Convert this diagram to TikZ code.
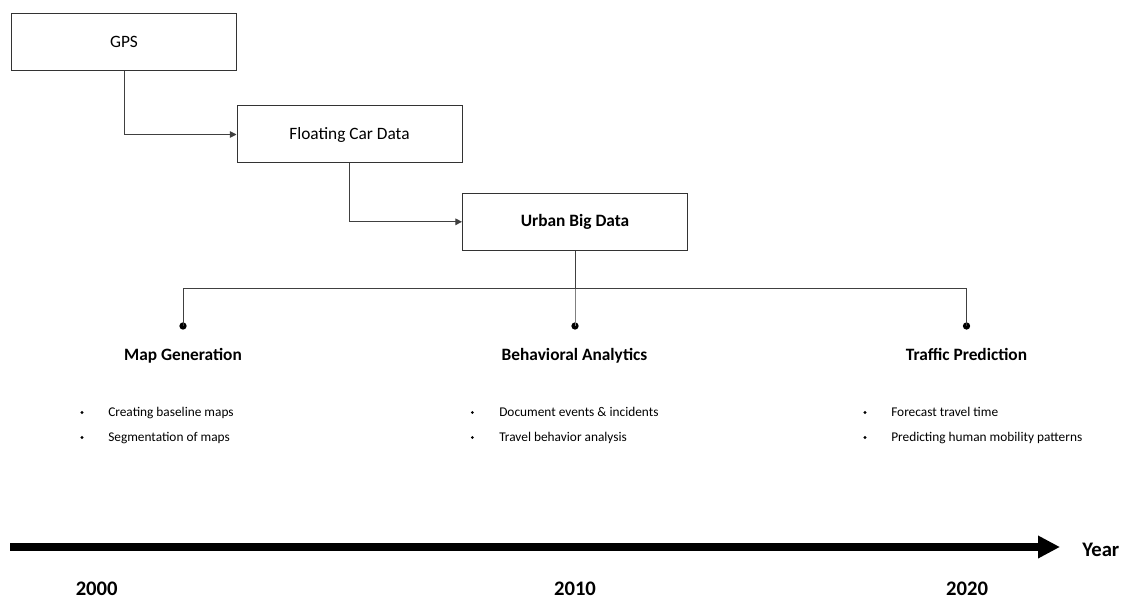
\documentclass[tikz,border=0pt]{standalone}
\usepackage{fontspec}
\setmainfont{Carlito}
\usetikzlibrary{arrows.meta}
\begin{document}
\begin{tikzpicture}[x=0.75pt,y=-0.75pt,
  box/.style={draw=black!80,line width=0.75pt,minimum width=168.75pt,minimum height=42.75pt,inner sep=0pt,font=\fontsize{13}{15}\selectfont},
  conn/.style={draw=black!75,line width=0.7pt},
  tip/.style={-{Triangle[length=5pt,width=5pt]}},
  head/.style={anchor=base,font=\fontsize{13}{15}\selectfont\bfseries},
  itm/.style={anchor=base west,inner sep=0pt,font=\fontsize{10}{12}\selectfont},
  bul/.style={circle,fill=black,inner sep=0pt,minimum size=2.3pt},
  yr/.style={anchor=base,inner sep=0pt,font=\fontsize{15.5}{18}\selectfont\bfseries},
  dot/.style={circle,fill=black,inner sep=0pt,minimum size=5.5pt}]
\useasboundingbox (0,0) rectangle (1123,598);

% boxes
\node[box] (gps) at (124,42) {GPS};
\node[box] (fcd) at (349.5,134.5) {Floating Car Data};
\node[box] (ubd) at (575,221.8) {\bfseries Urban Big Data};

% connectors between boxes
\draw[conn,tip] (gps.south) |- (fcd.west);
\draw[conn,tip] (fcd.south) |- (ubd.west);

% branch
\coordinate (j) at (575,288.3);
\node[dot] (d1) at (183,326) {};
\node[dot] (d2) at (575,326) {};
\node[dot] (d3) at (966.5,326) {};
\draw[conn] (ubd.south) -- (j);
\draw[conn,draw=black!50] (j) -- (d2.center);
\draw[conn] (d1.center) |- (j) -| (d3.center);

% headings
\node[head] (h1) at (183,360) {Map Generation};
\node[head] (h2) at (574.5,360) {Behavioral Analytics};
\node[head] (h3) at (966.5,360) {Traffic Prediction};

% items
\node[bul] (b11) at (82,412.5) {};
\node[bul] (b12) at (82,437.5) {};
\node[itm] (i11) at (108,416) {Creating baseline maps};
\node[itm] (i12) at (108,441) {Segmentation of maps};

\node[bul] (b21) at (472.3,412.5) {};
\node[bul] (b22) at (472.3,437.5) {};
\node[itm] (i21) at (499,416) {Document events \& incidents};
\node[itm] (i22) at (499,441) {Travel behavior analysis};

\node[bul] (b31) at (865,412.5) {};
\node[bul] (b32) at (865,437.5) {};
\node[itm] (i31) at (891,416) {Forecast travel time};
\node[itm] (i32) at (891,441) {Predicting human mobility patterns};

% timeline
\coordinate (t0) at (10,547);
\coordinate (t1) at (1060,547);
\draw[line width=5.4pt,-{Triangle[length=16.5pt,width=16pt]}] (t0) -- (t1);
\node[yr,anchor=base west] (year) at (1082,556) {Year};
\node[yr] (y0) at (96.7,595) {2000};
\node[yr] (y1) at (575,595) {2010};
\node[yr] (y2) at (967,595) {2020};
\end{tikzpicture}
\end{document}
